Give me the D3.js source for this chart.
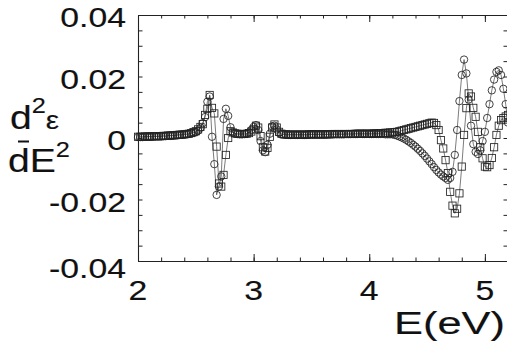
<!DOCTYPE html>
<html>
<head>
<meta charset="utf-8">
<script src="https://cdn.jsdelivr.net/npm/d3@7"></script>
<style>
  body { margin: 0; background: #fff; }
  svg { display: block; }
  text { font-family: "Liberation Sans", Arial, sans-serif; fill: #111; stroke: #111; stroke-width: 0.15px; }
</style>
</head>
<body>
<svg id="chart"></svg>
<script>
(function() {

// photon energy (eV)
const energy = [
  2.00, 2.02, 2.04, 2.06, 2.08, 2.10, 2.12, 2.14, 2.16, 2.18,
  2.20, 2.22, 2.24, 2.26, 2.28, 2.30, 2.32, 2.34, 2.36, 2.38,
  2.40, 2.42, 2.44, 2.46, 2.48, 2.50, 2.52, 2.54, 2.56, 2.58,
  2.60, 2.62, 2.64, 2.66, 2.68, 2.70, 2.72, 2.74, 2.76, 2.78,
  2.80, 2.82, 2.84, 2.86, 2.88, 2.90, 2.92, 2.94, 2.96, 2.98,
  3.00, 3.02, 3.04, 3.06, 3.08, 3.10, 3.12, 3.14, 3.16, 3.18,
  3.20, 3.22, 3.24, 3.26, 3.28, 3.30, 3.32, 3.34, 3.36, 3.38,
  3.40, 3.42, 3.44, 3.46, 3.48, 3.50, 3.52, 3.54, 3.56, 3.58,
  3.60, 3.62, 3.64, 3.66, 3.68, 3.70, 3.72, 3.74, 3.76, 3.78,
  3.80, 3.82, 3.84, 3.86, 3.88, 3.90, 3.92, 3.94, 3.96, 3.98,
  4.00, 4.02, 4.04, 4.06, 4.08, 4.10, 4.12, 4.14, 4.16, 4.18,
  4.20, 4.22, 4.24, 4.26, 4.28, 4.30, 4.32, 4.34, 4.36, 4.38,
  4.40, 4.42, 4.44, 4.46, 4.48, 4.50, 4.52, 4.54, 4.56, 4.58,
  4.60, 4.62, 4.64, 4.66, 4.68, 4.70, 4.72, 4.74, 4.76, 4.78,
  4.80, 4.82, 4.84, 4.86, 4.88, 4.90, 4.92, 4.94, 4.96, 4.98,
  5.00, 5.02, 5.04, 5.06, 5.08, 5.10, 5.12, 5.14, 5.16, 5.18,
  5.20
];

// circles
const circleSeries = [
  0.0003, 0.0003, 0.0003, 0.0004, 0.0004, 0.0004, 0.0004, 0.0005, 0.0005, 0.0005,
  0.0005, 0.0006, 0.0006, 0.0007, 0.0007, 0.0008, 0.0008, 0.0009, 0.0010, 0.0010,
  0.0011, 0.0012, 0.0013, 0.0015, 0.0017, 0.0019, 0.0024, 0.0033, 0.0048, 0.0068,
  0.0118, 0.0135, 0.0004, -0.0085, -0.0185, -0.0158, -0.0125, 0.0062, 0.0095, 0.0072,
  0.0035, 0.0018, 0.0014, 0.0013, 0.0012, 0.0012, 0.0013, 0.0015, 0.0018, 0.0026,
  0.0036, 0.0042, 0.0026, -0.0010, -0.0040, -0.0046, -0.0022, 0.0014, 0.0038, 0.0040,
  0.0028, 0.0017, 0.0012, 0.0011, 0.0010, 0.0010, 0.0010, 0.0010, 0.0010, 0.0010,
  0.0010, 0.0010, 0.0010, 0.0010, 0.0011, 0.0011, 0.0011, 0.0011, 0.0011, 0.0011,
  0.0011, 0.0011, 0.0012, 0.0012, 0.0012, 0.0012, 0.0012, 0.0012, 0.0012, 0.0012,
  0.0013, 0.0013, 0.0013, 0.0013, 0.0013, 0.0013, 0.0013, 0.0013, 0.0013, 0.0013,
  0.0013, 0.0013, 0.0013, 0.0013, 0.0013, 0.0013, 0.0013, 0.0012, 0.0012, 0.0012,
  0.0012, 0.0010, 0.0008, 0.0005, 0.0002, -0.0002, -0.0006, -0.0011, -0.0016, -0.0022,
  -0.0028, -0.0035, -0.0042, -0.0050, -0.0058, -0.0067, -0.0076, -0.0085, -0.0095, -0.0104,
  -0.0112, -0.0119, -0.0125, -0.0130, -0.0136, -0.0130, -0.0110, -0.0055, 0.0026, 0.0120,
  0.0205, 0.0255, 0.0210, 0.0125, 0.0040, -0.0020, -0.0045, -0.0052, -0.0040, -0.0010,
  0.0020, 0.0065, 0.0110, 0.0155, 0.0190, 0.0215, 0.0220, 0.0205, 0.0160, 0.0110,
  0.0050
];

// squares
const squareSeries = [
  0.0004, 0.0004, 0.0004, 0.0005, 0.0005, 0.0005, 0.0005, 0.0006, 0.0006, 0.0006,
  0.0006, 0.0007, 0.0007, 0.0008, 0.0008, 0.0009, 0.0009, 0.0010, 0.0011, 0.0011,
  0.0012, 0.0013, 0.0014, 0.0016, 0.0019, 0.0022, 0.0028, 0.0036, 0.0045, 0.0075,
  0.0095, 0.0140, 0.0098, 0.0080, -0.0028, -0.0148, -0.0158, -0.0120, -0.0055, 0.0000,
  0.0022, 0.0018, 0.0015, 0.0014, 0.0013, 0.0013, 0.0013, 0.0014, 0.0016, 0.0021,
  0.0028, 0.0040, 0.0034, 0.0006, -0.0030, -0.0044, -0.0032, 0.0004, 0.0034, 0.0044,
  0.0034, 0.0020, 0.0014, 0.0012, 0.0012, 0.0011, 0.0011, 0.0011, 0.0011, 0.0011,
  0.0011, 0.0011, 0.0011, 0.0011, 0.0012, 0.0012, 0.0012, 0.0012, 0.0012, 0.0012,
  0.0012, 0.0012, 0.0012, 0.0012, 0.0013, 0.0013, 0.0013, 0.0013, 0.0013, 0.0013,
  0.0013, 0.0013, 0.0013, 0.0013, 0.0014, 0.0014, 0.0014, 0.0014, 0.0014, 0.0014,
  0.0014, 0.0014, 0.0015, 0.0015, 0.0015, 0.0016, 0.0016, 0.0017, 0.0017, 0.0018,
  0.0018, 0.0019, 0.0020, 0.0022, 0.0024, 0.0026, 0.0028, 0.0030, 0.0032, 0.0034,
  0.0036, 0.0038, 0.0040, 0.0042, 0.0044, 0.0046, 0.0048, 0.0050, 0.0049, 0.0042,
  0.0026, -0.0007, -0.0034, -0.0072, -0.0114, -0.0175, -0.0220, -0.0245, -0.0230, -0.0180,
  -0.0093, 0.0010, 0.0097, 0.0145, 0.0135, 0.0098, 0.0069, 0.0020, -0.0030, -0.0066,
  -0.0093, -0.0095, -0.0088, -0.0065, -0.0030, 0.0010, 0.0040, 0.0058, 0.0065, 0.0070,
  0.0075
];

const xTickLabels = [2, 3, 4, 5];
const yTickLabels = [0.04, 0.02, 0, -0.02, -0.04];

const W = 507, H = 343;
const padL = 138, padR = 508, padT = 15, padB = 261;

const svg = d3.select('#chart').attr('width', W).attr('height', H);

const x = d3.scaleLinear().domain([2, 5.2]).range([padL, padR]);
const y = d3.scaleLinear().domain([-0.04, 0.04]).range([padB, padT]);

const xMinor = d3.range(2, 5.21, 0.2);
const yMinor = d3.range(-0.04, 0.0401, 0.005);

// frame + ticks (all ticks point inward)
const axisStyle = g => {
    g.selectAll('path').attr('stroke', '#222').attr('stroke-width', 1.1);
    g.selectAll('line').attr('stroke', '#222').attr('stroke-width', 1);
    g.selectAll('text').remove();
};

svg.append('g').attr('transform', `translate(0,${padB})`)
    .call(d3.axisBottom(x).tickValues(xMinor).tickSizeInner(-3.5).tickSizeOuter(0).tickFormat(''))
    .call(axisStyle);
svg.append('g').attr('transform', `translate(0,${padB})`)
    .call(d3.axisBottom(x).tickValues(xTickLabels).tickSizeInner(-7).tickSizeOuter(0).tickFormat(''))
    .call(axisStyle);
svg.append('g').attr('transform', `translate(0,${padT})`)
    .call(d3.axisTop(x).tickValues(xMinor).tickSizeInner(-3.5).tickSizeOuter(0).tickFormat(''))
    .call(axisStyle);
svg.append('g').attr('transform', `translate(0,${padT})`)
    .call(d3.axisTop(x).tickValues(xTickLabels).tickSizeInner(-7).tickSizeOuter(0).tickFormat(''))
    .call(axisStyle);
svg.append('g').attr('transform', `translate(${padL},0)`)
    .call(d3.axisLeft(y).tickValues(yMinor).tickSizeInner(-4.5).tickSizeOuter(0).tickFormat(''))
    .call(axisStyle);
svg.append('g').attr('transform', `translate(${padR},0)`)
    .call(d3.axisRight(y).tickValues(yMinor).tickSizeInner(-4.5).tickSizeOuter(0).tickFormat(''))
    .call(axisStyle);

// tick labels (the scanned figure is stretched sideways a bit)
svg.append('g').selectAll('text')
    .data(yTickLabels)
    .enter().append('text')
    .attr('transform', d => `translate(126,${y(d) + (d === -0.04 ? 17 : 12)}) scale(1.25,1)`)
    .attr('text-anchor', 'end')
    .style('font-size', '27px')
    .text(d => d === 0 ? '0' : d.toFixed(2));

svg.append('g').selectAll('text')
    .data(xTickLabels)
    .enter().append('text')
    .attr('transform', d => `translate(${x(d)},300) scale(1.25,1)`)
    .attr('text-anchor', 'middle')
    .style('font-size', '27px')
    .text(d => d);

svg.append('text')
    .attr('transform', 'translate(505,334) scale(1.4,1)')
    .attr('text-anchor', 'end')
    .style('font-size', '31px')
    .text('E(eV)');

// y title: d^2 eps over dE^2
const yt = svg.append('g');
const numer = yt.append('text')
    .attr('transform', 'translate(10,129) scale(1.15,1)')
    .style('font-size', '34px');
numer.append('tspan').text('d');
numer.append('tspan').attr('dy', -16).style('font-size', '22px').text('2');
numer.append('tspan').attr('dy', 16).style('font-size', '26px').text('\u03b5');

const denom = yt.append('text')
    .attr('transform', 'translate(8,172) scale(1.15,1)')
    .style('font-size', '34px');
denom.append('tspan').text('dE');
denom.append('tspan').attr('dy', -15).style('font-size', '22px').text('2');

yt.append('line')
    .attr('x1', 18).attr('x2', 29).attr('y1', 141.5).attr('y2', 141.5)
    .attr('stroke', '#111').attr('stroke-width', 2);

// data
const line = d3.line().x(d => x(d[0])).y(d => y(d[1]));
const circlePts = energy.map((e, i) => [e, circleSeries[i]]);
const squarePts = energy.map((e, i) => [e, squareSeries[i]]);

const plot = svg.append('g');

plot.append('path').datum(circlePts)
    .attr('d', line).attr('fill', 'none').attr('stroke', '#444').attr('stroke-width', 0.7);
plot.append('path').datum(squarePts)
    .attr('d', line).attr('fill', 'none').attr('stroke', '#444').attr('stroke-width', 0.7);

const sq = 7.2;
plot.append('g').selectAll('rect')
    .data(squarePts)
    .enter().append('rect')
    .attr('x', d => x(d[0]) - sq / 2)
    .attr('y', d => y(d[1]) - sq / 2)
    .attr('width', sq).attr('height', sq)
    .attr('fill', 'none').attr('stroke', '#222').attr('stroke-width', 0.85);

plot.append('g').selectAll('circle')
    .data(circlePts)
    .enter().append('circle')
    .attr('cx', d => x(d[0]))
    .attr('cy', d => y(d[1]))
    .attr('r', 3.7)
    .attr('fill', 'none').attr('stroke', '#222').attr('stroke-width', 0.85);

})();
</script>
</body>
</html>
